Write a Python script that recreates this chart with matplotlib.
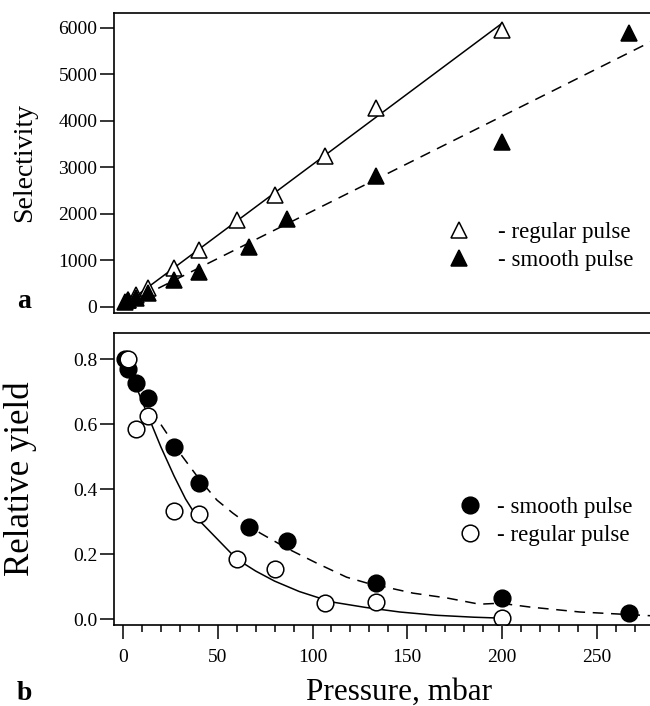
import matplotlib
matplotlib.use('Agg')
import matplotlib.pyplot as plt
from matplotlib.ticker import MultipleLocator

plt.rcParams['font.family'] = ['Liberation Serif', 'DejaVu Serif']

# ---- panel a: selectivity vs pressure ----
reg_p = [2.67, 6.67, 13.3, 26.7, 40, 60, 80, 106.7, 133.3, 200]
reg_sel = [150, 260, 400, 840, 1230, 1880, 2400, 3250, 4270, 5960]
smooth_p = [1.33, 2.67, 6.67, 13.3, 26.7, 40, 66.7, 86.7, 133.3, 200, 266.7]
smooth_sel = [110, 150, 200, 300, 580, 750, 1290, 1890, 2820, 3550, 5890]

# fit lines (end points)
reg_fit_p = [2.0, 200.0]
reg_fit_sel = [83, 6100]
smooth_fit_p = [1.33, 280.0]
smooth_fit_sel = [48, 5733]

# ---- panel b: relative yield vs pressure ----
reg_yield = [0.80, 0.585, 0.625, 0.332, 0.323, 0.185, 0.154, 0.049, 0.053, 0.003]
smooth_yield = [0.80, 0.77, 0.725, 0.68, 0.53, 0.418, 0.283, 0.24, 0.111, 0.065, 0.018]

reg_curve_p = [1.3, 7, 14, 20, 27, 33, 40, 50, 60, 70, 80, 93, 110, 128, 146, 165, 185, 200]
reg_curve_y = [0.795, 0.715, 0.615, 0.53, 0.44, 0.37, 0.305, 0.245, 0.185, 0.148,
               0.117, 0.085, 0.053, 0.036, 0.022, 0.012, 0.006, 0.003]
smooth_curve_p = [1.3, 9, 18.5, 24.8, 30, 40.6, 49.6, 58, 72.3, 86.5, 102.3, 118,
                  128.7, 139, 153, 171, 188, 199, 215, 241, 280]
smooth_curve_y = [0.795, 0.705, 0.612, 0.557, 0.511, 0.428, 0.366, 0.326, 0.265,
                  0.218, 0.172, 0.129, 0.111, 0.098, 0.080, 0.065, 0.046, 0.049,
                  0.037, 0.022, 0.010]

fig = plt.figure(figsize=(6.5, 7.06), dpi=100)
ax1 = fig.add_axes([114 / 650, 1 - 313 / 706, 536 / 650, 300 / 706])
ax2 = fig.add_axes([114 / 650, 1 - 625 / 706, 536 / 650, 292 / 706])

lw = 1.1
ms = 12
dash = (0, (7, 5))

for ax in (ax1, ax2):
    ax.set_xlim(-4.7, 278)
    ax.spines['right'].set_visible(False)
    for s in ('left', 'top', 'bottom'):
        ax.spines[s].set_linewidth(1.2)
    ax.tick_params(axis='y', direction='out', length=10, width=1.1,
                   labelsize=14, pad=2)

# panel a
ax1.plot(reg_fit_p, reg_fit_sel, color='black', lw=lw)
ax1.plot(smooth_fit_p, smooth_fit_sel, color='black', lw=lw, linestyle=dash)
h_reg_a, = ax1.plot(reg_p, reg_sel, linestyle='none', marker='^', ms=ms,
                    mfc='white', mec='black', mew=1.1, label='- regular pulse')
h_sm_a, = ax1.plot(smooth_p, smooth_sel, linestyle='none', marker='^', ms=ms,
                   mfc='black', mec='black', mew=1.1, label='- smooth pulse')
ax1.set_ylim(-130, 6320)
ax1.yaxis.set_major_locator(MultipleLocator(1000))
ax1.tick_params(axis='x', bottom=False, labelbottom=False)
ax1.set_ylabel('Selectivity', fontsize=20)
ax1.yaxis.set_label_coords(-0.1437, 0.5)
ax1.legend(handles=[h_reg_a, h_sm_a], loc='center left',
           bbox_to_anchor=(447.5 / 650, 1 - 246.5 / 706),
           bbox_transform=fig.transFigure, frameon=False, fontsize=16.5,
           handlelength=1.0, handletextpad=1.2, labelspacing=0.27,
           borderpad=0, borderaxespad=0, numpoints=1)

# panel b
ax2.plot(reg_curve_p, reg_curve_y, color='black', lw=lw)
ax2.plot(smooth_curve_p, smooth_curve_y, color='black', lw=lw, linestyle=dash)
h_sm_b, = ax2.plot(smooth_p, smooth_yield, linestyle='none', marker='o', ms=ms,
                   mfc='black', mec='black', mew=1.1, label='- smooth pulse')
h_reg_b, = ax2.plot(reg_p, reg_yield, linestyle='none', marker='o', ms=ms,
                    mfc='white', mec='black', mew=1.1, label='- regular pulse')
ax2.set_ylim(-0.018, 0.88)
ax2.yaxis.set_major_locator(MultipleLocator(0.2))
ax2.yaxis.set_major_formatter(plt.FormatStrFormatter('%.1f'))
ax2.xaxis.set_major_locator(MultipleLocator(50))
ax2.xaxis.set_minor_locator(MultipleLocator(10))
ax2.tick_params(axis='x', which='major', direction='out', length=10, width=1.1,
                labelsize=14, pad=7)
ax2.tick_params(axis='x', which='minor', direction='out', length=5, width=1.1)
ax2.set_ylabel('Relative yield', fontsize=25)
ax2.yaxis.set_label_coords(-0.1437, 0.5)
ax2.set_xlabel('Pressure, mbar', fontsize=22.5, va='baseline')
ax2.xaxis.set_label_coords(0.532, (6 - 81) / 292)
ax2.legend(handles=[h_sm_b, h_reg_b], loc='center left',
           bbox_to_anchor=(458.5 / 650, 1 - 521.5 / 706),
           bbox_transform=fig.transFigure, frameon=False, fontsize=16.5,
           handlelength=1.0, handletextpad=0.67, labelspacing=0.27,
           borderpad=0, borderaxespad=0, numpoints=1)

# panel letters
fig.text(17 / 650, 1 - 308 / 706, 'a', fontsize=20, fontweight='bold', va='baseline')
fig.text(17 / 650, 1 - 700 / 706, 'b', fontsize=20, fontweight='bold', va='baseline')

fig.savefig('out.png', dpi=100, facecolor='white')
